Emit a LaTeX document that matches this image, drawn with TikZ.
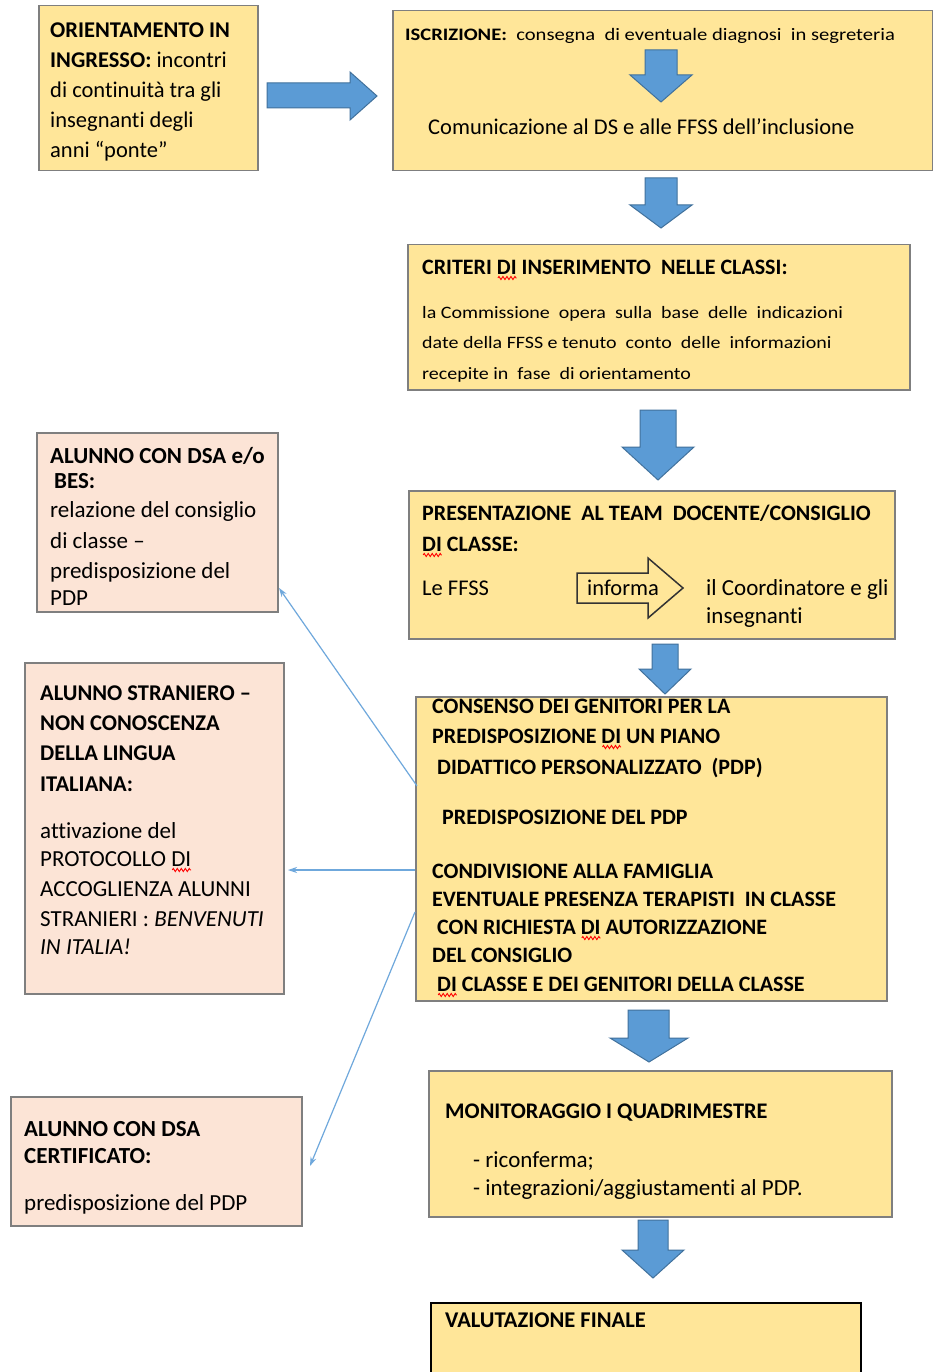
\documentclass[tikz,border=0pt]{standalone}
\usepackage{fontspec}
\setmainfont{Carlito}[Ligatures=NoCommon]
\usetikzlibrary{arrows.meta,decorations.pathmorphing}
\definecolor{boxyellow}{HTML}{FFE699}
\definecolor{boxpink}{HTML}{FCE4D6}
\definecolor{boxgray}{HTML}{7F7F7F}
\definecolor{arrowfill}{HTML}{5B9BD5}
\definecolor{arrowedge}{HTML}{41719C}
\definecolor{linkblue}{HTML}{6FA8DC}
\newcommand\tline[5]{\node[txt,font=\fontsize{#4}{#4}\selectfont] (#1) at (#2,#3) {#5};}
\newsavebox\sqbox
\newcommand\sqg[1]{\sbox\sqbox{#1}\rlap{\tikz[overlay,x=1pt,y=1pt]\draw[red,line width=0.9pt,decorate,decoration={zigzag,amplitude=1.6pt,segment length=4pt}] (1,-4) -- (\wd\sqbox,-4);}\usebox\sqbox}
\begin{document}
\begin{tikzpicture}[x=1pt,y=-1pt,
  ybox/.style={draw=boxgray,fill=boxyellow,line width=1.5pt,inner sep=0pt,anchor=north west},
  pbox/.style={draw=boxgray,fill=boxpink,line width=1.5pt,inner sep=0pt,anchor=north west},
  txt/.style={anchor=base west,inner sep=0pt},
  blockarrow/.style={fill=arrowfill,draw=arrowedge,line width=1pt,line join=miter},
  outarrow/.style={draw=black!80,line width=1.5pt,line join=miter},
  link/.style={draw=linkblue,line width=1.2pt,-{Stealth[length=9pt,width=6pt]}}]
\useasboundingbox (0,0) rectangle (933,1372);
\fill[white] (0,0) rectangle (933,1372);

% ---------- boxes ----------
\node[ybox,minimum width=219pt,minimum height=165pt] (orient) at (38,5) {};
\node[ybox,minimum width=540pt,minimum height=160pt] (iscr) at (392,10) {};
\node[ybox,minimum width=502pt,minimum height=145pt] (crit) at (407,244) {};
\node[ybox,minimum width=486pt,minimum height=148pt] (pres) at (408,490) {};
\node[ybox,minimum width=471pt,minimum height=304pt] (cons) at (415,696) {};
\node[ybox,minimum width=463pt,minimum height=146pt] (moni) at (428,1070) {};
\node[ybox,draw=black,minimum width=430pt,minimum height=90pt] (valu) at (430,1302) {};
\node[pbox,minimum width=241pt,minimum height=179pt] (dsabes) at (36,432) {};
\node[pbox,minimum width=259pt,minimum height=331pt] (stran) at (24,662) {};
\node[pbox,minimum width=291pt,minimum height=129pt] (dsacert) at (10,1096) {};

% ---------- block arrows ----------
\draw[blockarrow] (267,83) -- (350,83) -- (350,72) -- (377,96) -- (350,120) -- (350,108) -- (267,108) -- cycle;
\draw[blockarrow] (645,50) -- (677,50) -- (677,75) -- (692,75) -- (661,102) -- (630,75) -- (645,75) -- cycle;
\draw[blockarrow] (645,178) -- (677,178) -- (677,205) -- (692,205) -- (661,228) -- (630,205) -- (645,205) -- cycle;
\draw[blockarrow] (640,410) -- (676,410) -- (676,447) -- (694,447) -- (658,480) -- (622,447) -- (640,447) -- cycle;
\draw[blockarrow] (652,644) -- (678,644) -- (678,669) -- (691,669) -- (665,694) -- (639,669) -- (652,669) -- cycle;
\draw[blockarrow] (628,1010) -- (669,1010) -- (669,1038) -- (688,1038) -- (649,1062) -- (610,1038) -- (628,1038) -- cycle;
\draw[blockarrow] (638,1220) -- (668,1220) -- (668,1250) -- (684,1250) -- (653,1278) -- (622,1250) -- (638,1250) -- cycle;

% outline arrow "informa"
\draw[outarrow] (577,573) -- (648,573) -- (648,558) -- (683,588) -- (648,618) -- (648,603) -- (577,603) -- cycle;

% ---------- texts ----------
\tline{o1}{50}{38}{22.5}{\textbf{ORIENTAMENTO IN}}
\tline{o2}{50}{68}{22.5}{\textbf{INGRESSO:} incontri}
\tline{o3}{50}{98}{22.5}{di continuità tra gli}
\tline{o4}{50}{128}{22.5}{insegnanti degli}
\tline{o5}{50}{158}{22.5}{anni “ponte”}

\tline{i1}{405}{41}{20.6}{\scalebox{1}[0.85]{\textbf{ISCRIZIONE:}\ \ consegna\ \ di eventuale diagnosi\ \ in segreteria}}
\tline{i2}{428}{135}{22.5}{Comunicazione al DS e alle FFSS dell’inclusione}

\tline{c1}{422}{274}{22}{\textbf{CRITERI \sqg{DI} INSERIMENTO\ \ NELLE CLASSI:}}
\tline{c2}{422}{318}{20}{\scalebox{1}[0.87]{la Commissione\ \ opera\ \ sulla\ \ base\ \ delle\ \ indicazioni}}
\tline{c3}{422}{348}{20}{\scalebox{1}[0.87]{date della FFSS e tenuto\ \ conto\ \ delle\ \ informazioni}}
\tline{c4}{422}{379}{20}{\scalebox{1}[0.87]{recepite in\ \ fase\ \ di orientamento}}

\tline{p1}{422}{520}{22}{\textbf{PRESENTAZIONE\ \ AL TEAM\ \ DOCENTE/CONSIGLIO}}
\tline{p2}{422}{551}{22}{\textbf{\sqg{DI} CLASSE:}}
\tline{p3}{422}{595}{22.5}{Le FFSS}
\tline{p4}{587}{595}{22.5}{informa}
\begin{scope}
\clip (pres.north west) rectangle (pres.south east);
\tline{p5}{706}{595}{23}{il Coordinatore e gli}
\tline{p6}{706}{623}{23}{insegnanti}
\end{scope}

\tline{k1}{432}{713}{22}{\textbf{CONSENSO DEI GENITORI PER LA}}
\tline{k2}{432}{743}{22}{\textbf{PREDISPOSIZIONE \sqg{DI} UN PIANO}}
\tline{k3}{437}{774}{22}{\textbf{DIDATTICO PERSONALIZZATO\ \ (PDP)}}
\tline{k4}{442}{824}{22}{\textbf{PREDISPOSIZIONE DEL PDP}}
\tline{k5}{432}{878}{22}{\textbf{CONDIVISIONE ALLA FAMIGLIA}}
\tline{k6}{432}{906}{22}{\textbf{EVENTUALE PRESENZA TERAPISTI\ \ IN CLASSE}}
\tline{k7}{437}{934}{22}{\textbf{CON RICHIESTA \sqg{DI} AUTORIZZAZIONE}}
\tline{k8}{432}{962}{22}{\textbf{DEL CONSIGLIO}}
\tline{k9}{437}{991}{22}{\textbf{\sqg{DI} CLASSE E DEI GENITORI DELLA CLASSE}}

\tline{m1}{445}{1118}{22.3}{\textbf{MONITORAGGIO I QUADRIMESTRE}}
\tline{m2}{473}{1167}{23}{- riconferma;}
\tline{m3}{473}{1195}{23}{- integrazioni/aggiustamenti al PDP.}

\tline{v1}{445}{1327}{22.5}{\textbf{VALUTAZIONE FINALE}}

\tline{a1}{50}{463}{23}{\textbf{ALUNNO CON DSA e/o}}
\tline{a2}{54}{488}{23}{\textbf{BES:}}
\tline{a3}{50}{517}{23}{relazione del consiglio}
\tline{a4}{50}{548}{23}{di classe –}
\tline{a5}{50}{578}{23}{predisposizione del}
\tline{a6}{50}{605}{23}{PDP}

\tline{s1}{40}{700}{22.5}{\textbf{ALUNNO STRANIERO –}}
\tline{s2}{40}{730}{22.5}{\textbf{NON CONOSCENZA}}
\tline{s3}{40}{760}{22.5}{\textbf{DELLA LINGUA}}
\tline{s4}{40}{791}{22.5}{\textbf{ITALIANA:}}
\tline{s5}{40}{838}{23}{attivazione del}
\tline{s6}{40}{866}{23}{PROTOCOLLO \sqg{DI}}
\tline{s7}{40}{896}{23}{ACCOGLIENZA ALUNNI}
\tline{s8}{40}{926}{23}{STRANIERI : \textit{BENVENUTI}}
\tline{s9}{40}{954}{23}{\textit{IN ITALIA!}}

\tline{d1}{24}{1136}{23}{\textbf{ALUNNO CON DSA}}
\tline{d2}{24}{1163}{23}{\textbf{CERTIFICATO:}}
\tline{d3}{24}{1210}{23}{predisposizione del PDP}

% ---------- connectors ----------
\coordinate (l1s) at (417,786);
\coordinate (l1e) at (279,588);
\coordinate (l2s) at (415,870);
\coordinate (l2e) at (288,870);
\coordinate (l3s) at (415,912);
\coordinate (l3e) at (310,1166);
\draw[link] (l1s) -- (l1e);
\draw[link] (l2s) -- (l2e);
\draw[link] (l3s) -- (l3e);
\end{tikzpicture}
\end{document}
